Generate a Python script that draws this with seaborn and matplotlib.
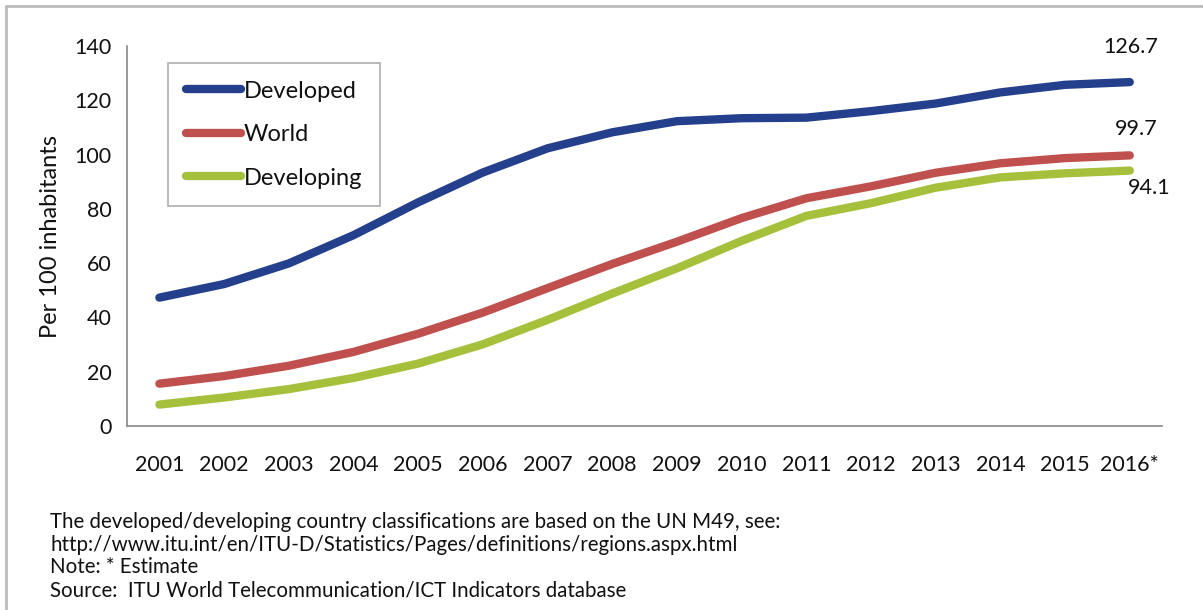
import pandas as pd
import seaborn as sns
import matplotlib.pyplot as plt
from matplotlib.lines import Line2D

years = ['2001', '2002', '2003', '2004', '2005', '2006', '2007', '2008',
         '2009', '2010', '2011', '2012', '2013', '2014', '2015', '2016*']
developed = [47.3, 52.3, 59.9, 70.3, 82.4, 93.4, 102.3, 108.2,
             112.3, 113.4, 113.6, 116.0, 118.8, 122.9, 125.7, 126.7]
world = [15.6, 18.4, 22.2, 27.3, 34.0, 41.8, 50.8, 59.7,
         67.9, 76.6, 83.9, 88.3, 93.3, 96.8, 98.7, 99.7]
developing = [7.9, 10.5, 13.6, 17.7, 23.0, 30.1, 39.1, 48.8,
              58.1, 68.2, 77.4, 82.1, 87.8, 91.6, 93.1, 94.1]
series = ['Developed', 'World', 'Developing']
colors = ['#243f8b', '#c0504d', '#a5c03a']
footer = ['The developed/developing country classifications are based on the UN M49, see:',
          'http://www.itu.int/en/ITU-D/Statistics/Pages/definitions/regions.aspx.html',
          'Note: * Estimate',
          'Source:  ITU World Telecommunication/ICT Indicators database']

df = pd.DataFrame({'idx': list(range(len(years))) * 3,
                   'value': developed + world + developing,
                   'series': [s for s in series for _ in years]})

sns.set_style('white')
plt.rcParams['font.family'] = ['Lato', 'DejaVu Sans']

fig = plt.figure(figsize=(12.03, 6.10), dpi=100)
ax = fig.add_axes([0.1056, 0.3016, 0.8604, 0.623])

sns.lineplot(data=df, x='idx', y='value', hue='series', palette=colors,
             hue_order=series, linewidth=6, solid_capstyle='round',
             legend=False, ax=ax)

ax.set_xlim(-0.5, len(years) - 0.5)
ax.set_ylim(0, 140)
ax.set_yticks(range(0, 141, 20))
ax.set_xticks(range(len(years)))
ax.set_xticklabels(years)
ax.set_xticks([i - 0.5 for i in range(len(years) + 1)], minor=True)
ax.tick_params(axis='x', which='major', length=0, pad=21, labelsize=15.5, colors='#111111')
ax.tick_params(axis='x', which='minor', length=7, width=1.2, color='#888888', direction='out')
ax.tick_params(axis='y', length=7, width=1.2, color='#888888', direction='out', labelsize=15.5,
               labelcolor='#111111', pad=4)
ax.set_xlabel('')
ax.set_ylabel('Per 100 inhabitants', fontsize=17, labelpad=10, color='#111111')
for side in ['top', 'right']:
    ax.spines[side].set_visible(False)
for side in ['left', 'bottom']:
    ax.spines[side].set_color('#888888')
    ax.spines[side].set_linewidth(1.2)

last = len(years) - 1
ax.annotate(f'{developed[-1]}', (last, developed[-1]), xytext=(1, 18), textcoords='offset points',
            ha='center', va='bottom', fontsize=15.5, color='#111111')
ax.annotate(f'{world[-1]}', (last, world[-1]), xytext=(5, 12), textcoords='offset points',
            ha='center', va='bottom', fontsize=15.5, color='#111111')
ax.annotate(f'{developing[-1]}', (last, developing[-1]), xytext=(14, -5), textcoords='offset points',
            ha='center', va='top', fontsize=15.5, color='#111111')

handles = [Line2D([], [], color=c, linewidth=6, solid_capstyle='round') for c in colors]
leg = ax.legend(handles, series, loc='upper left', bbox_to_anchor=(168 / 1203, 1 - 63 / 610),
                bbox_transform=fig.transFigure, fontsize=17, frameon=True, fancybox=False,
                handlelength=2.35, handletextpad=0.1, labelspacing=0.95, borderpad=0.75,
                borderaxespad=0)
leg.get_frame().set_edgecolor('#999999')
leg.get_frame().set_linewidth(1.2)
for t in leg.get_texts():
    t.set_color('#111111')

for i, line in enumerate(footer):
    fig.text(50 / 1203, 1 - (522 + i * 22.7) / 610, line, fontsize=14.8, va='center', color='#111111')

# frame lines at top and left like the source image
fig.add_artist(Line2D([6 / 1203, 1], [1 - 6 / 610, 1 - 6 / 610], color='#bbbbbb', linewidth=2))
fig.add_artist(Line2D([6 / 1203, 6 / 1203], [0, 1 - 6 / 610], color='#bbbbbb', linewidth=2))

fig.savefig('out.png', dpi=100)
